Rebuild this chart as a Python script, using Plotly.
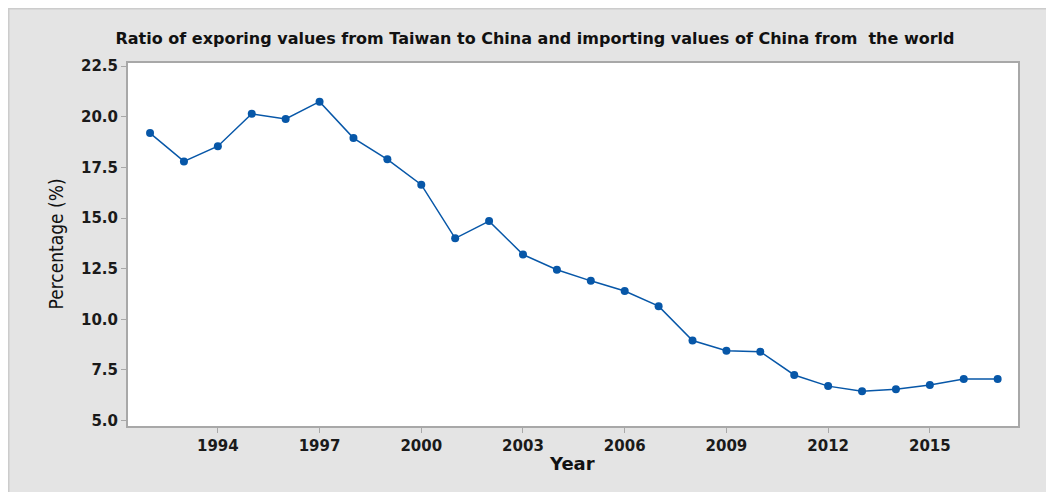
import plotly.graph_objects as go

# data
years = list(range(1992, 2018))
ratio = [19.2, 17.8, 18.55, 20.15, 19.9, 20.75, 18.95, 17.9, 16.65, 14.0,
         14.85, 13.2, 12.45, 11.9, 11.4, 10.65, 8.95, 8.45, 8.4, 7.25,
         6.7, 6.45, 6.55, 6.75, 7.05, 7.05]

y_ticks = [5.0, 7.5, 10.0, 12.5, 15.0, 17.5, 20.0, 22.5]
x_ticks = [1994, 1997, 2000, 2003, 2006, 2009, 2012, 2015]

blue = "#0757a8"
panel = "#e4e4e4"
font = "DejaVu Sans"

# the page body adds an 8px offset, so the figure itself starts at (8, 8)
L, T, R, B = 120, 55, 1010, 418
W, H = 1054, 492
pw, ph = R - L, B - T

fig = go.Figure()
fig.add_trace(go.Scatter(
    x=years, y=ratio, mode="lines+markers",
    line=dict(color=blue, width=1.5),
    marker=dict(color=blue, size=8),
    showlegend=False,
))

axis_common = dict(
    showgrid=False, zeroline=False, showline=True, linecolor="#a8a8a8",
    linewidth=2, mirror=True, ticks="outside", tickcolor="#a8a8a8",
    ticklen=5, tickwidth=1,
    tickfont=dict(family=font, size=15, color="#1a1a1a", weight="bold"),
)

fig.update_xaxes(range=[1991.35, 2017.6], tickvals=x_ticks,
                 ticktext=[str(v) for v in x_ticks], **axis_common)
fig.update_yaxes(range=[4.73, 22.66], tickvals=y_ticks,
                 ticktext=[f"{v:.1f}" for v in y_ticks], **axis_common)

fig.update_layout(
    width=W, height=H,
    margin=dict(l=L, r=W - R, t=T, b=H - B),
    paper_bgcolor=panel, plot_bgcolor="white",
    title=dict(
        text="Ratio of exporing values from Taiwan to China and importing values of China from  the world",
        x=527 / W, xanchor="center", y=1 - 30 / H, yanchor="middle",
        font=dict(family=font, size=16, color="#111111", weight="bold"),
    ),
    annotations=[
        dict(text="Percentage (%)", xref="paper", yref="paper",
             x=(47 - L) / pw, y=0.5, textangle=-90, showarrow=False,
             xanchor="center", yanchor="middle",
             font=dict(family="DejaVu Sans Condensed", size=19, color="#111111")),
        dict(text="Year", xref="paper", yref="paper",
             x=(564 - L) / pw, y=(B - 455) / ph, showarrow=False,
             xanchor="center", yanchor="middle",
             font=dict(family=font, size=18, color="#111111", weight="bold")),
    ],
    shapes=[
        # light border along the top and left of the gray panel
        dict(type="line", xref="paper", yref="paper",
             x0=-L / pw, x1=(W - L) / pw, y0=1 + T / ph, y1=1 + T / ph,
             line=dict(color="#cccccc", width=3), layer="below"),
        dict(type="line", xref="paper", yref="paper",
             x0=-L / pw, x1=-L / pw, y0=-B / ph, y1=1 + T / ph,
             line=dict(color="#cccccc", width=3), layer="below"),
    ],
)

fig.write_html("out.html")
